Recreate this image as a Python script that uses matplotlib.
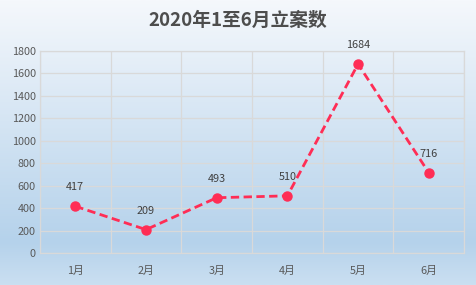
import numpy as np
import matplotlib
matplotlib.use("Agg")
import matplotlib.pyplot as plt
from matplotlib.colors import LinearSegmentedColormap

plt.rcParams['font.family'] = ['Noto Sans CJK SC', 'DejaVu Sans']

months = ["1月", "2月", "3月", "4月", "5月", "6月"]
cases = [417, 209, 493, 510, 1684, 716]
y_ticks = [0, 200, 400, 600, 800, 1000, 1200, 1400, 1600, 1800]

fig = plt.figure(figsize=(4.76, 2.85), dpi=100)

# gradient background
bg = fig.add_axes([0, 0, 1, 1], zorder=-1)
cmap = LinearSegmentedColormap.from_list(
    "bg", [(0.0, "#cadff1"), (0.15, "#b5d2eb"), (1.0, "#f5f8fc")])
grad = np.linspace(0, 1, 256).reshape(-1, 1)
bg.imshow(grad, aspect="auto", cmap=cmap, origin="lower", extent=[0, 1, 0, 1])
bg.axis("off")

ax = fig.add_axes([0.084, 0.112, 0.891, 0.709])
ax.patch.set_alpha(0)

x = np.arange(len(months))
ax.plot(x, cases, color="#ff2d55", lw=2.0, ls=(0, (3, 1.6)),
        marker="o", ms=6.5, zorder=3)
for xi, v in zip(x, cases):
    ax.annotate(str(v), (xi, v), xytext=(0, 10), textcoords="offset points",
                ha="center", va="bottom", fontsize=7.8, color="#404040")

ax.set_xlim(-0.5, len(months) - 0.5)
ax.set_ylim(0, 1800)
ax.set_yticks(y_ticks)
ax.set_xticks(x)
ax.set_xticklabels(months)
ax.set_xticks(np.arange(-0.5, len(months)), minor=True)
ax.grid(True, axis="y", color="#d9d9d9", lw=0.9)
ax.grid(True, axis="x", which="minor", color="#d9d9d9", lw=0.9)
ax.tick_params(which="both", length=0, colors="#595959", labelsize=7.8)
ax.tick_params(axis="x", pad=9)
ax.tick_params(axis="y", pad=3)
for s in ax.spines.values():
    s.set_color("#d9d9d9")
    s.set_linewidth(0.9)

fig.text(0.5, 0.928, "2020年1至6月立案数", ha="center", va="center",
         fontsize=13.5, fontweight="bold", color="#4d4d4d")

fig.savefig("out.png", dpi=100)
